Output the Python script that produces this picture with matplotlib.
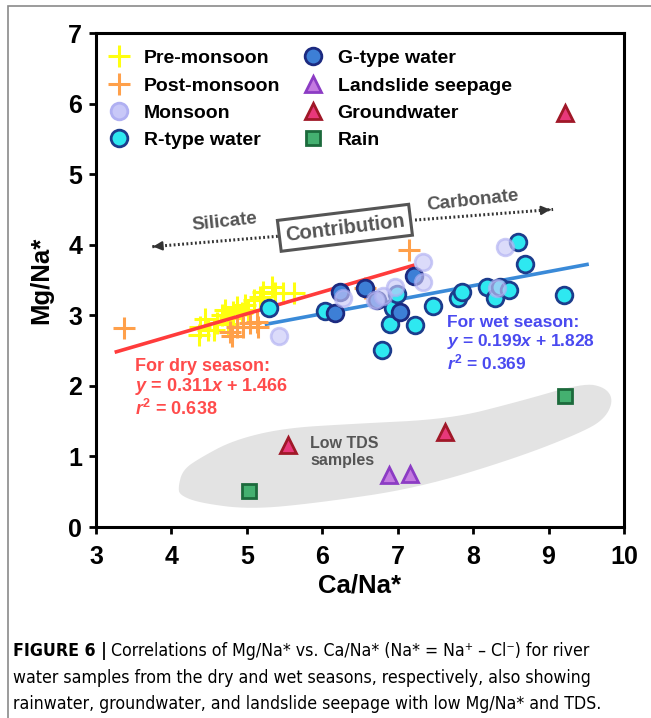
import numpy as np
import matplotlib
matplotlib.use('Agg')
import matplotlib.pyplot as plt
from matplotlib.lines import Line2D
from matplotlib.patches import Polygon, Rectangle

plt.rcParams['font.family'] = ['Liberation Sans', 'DejaVu Sans']
plt.rcParams['mathtext.fontset'] = 'custom'
plt.rcParams['mathtext.rm'] = 'Liberation Sans:bold'
plt.rcParams['mathtext.it'] = 'Liberation Sans:italic:bold'
plt.rcParams['mathtext.bf'] = 'Liberation Sans:bold'

# Amostras de rio - estação seca
pre_x = [4.36, 4.38, 4.45, 4.49, 4.56, 4.60, 4.67, 4.71, 4.75, 4.78, 4.82, 4.87,
         4.93, 4.98, 5.02, 5.09, 5.18, 5.22, 5.33, 5.37, 5.48, 5.62]
pre_y = [2.72, 2.84, 2.95, 2.79, 2.79, 2.89, 3.00, 3.07, 2.88, 2.96, 3.05, 3.12,
         3.03, 3.14, 3.07, 3.22, 3.26, 3.33, 3.40, 3.31, 3.31, 3.31]
post_x = [3.37, 4.78, 4.80, 4.87, 4.95, 5.04, 5.13, 5.15, 6.57, 7.15]
post_y = [2.82, 2.77, 2.70, 2.84, 2.84, 2.89, 2.91, 2.84, 3.38, 3.92]

# Amostras de rio - estação chuvosa
monsoon_x = [5.42, 6.27, 6.70, 6.80, 6.97, 7.34, 7.34, 8.31, 8.42]
monsoon_y = [2.70, 3.24, 3.22, 3.27, 3.40, 3.76, 3.47, 3.38, 3.97]
rtype_x = [5.29, 6.04, 6.79, 6.90, 6.94, 6.99, 7.23, 7.47, 7.80, 7.85, 8.18,
           8.29, 8.36, 8.47, 8.60, 8.69, 9.20]
rtype_y = [3.10, 3.06, 2.51, 2.88, 3.10, 3.30, 2.86, 3.13, 3.24, 3.33, 3.40,
           3.24, 3.40, 3.36, 4.04, 3.73, 3.29]
gtype_x = [6.17, 6.24, 6.57, 6.72, 7.03, 7.21]
gtype_y = [3.03, 3.33, 3.38, 3.22, 3.05, 3.55]

# Outras águas
seep_x = [6.89, 7.16]
seep_y = [0.74, 0.75]
ground_x = [5.55, 7.63, 9.22]
ground_y = [1.16, 1.35, 5.86]
rain_x = [5.03, 9.22]
rain_y = [0.51, 1.85]

# Regressões
dry_fit = (0.311, 1.466, 0.638)
wet_fit = (0.199, 1.828, 0.369)
dry_range = [3.27, 7.20]
wet_range = [5.26, 9.51]

# Contorno da região de baixo TDS
low_tds = [(4.09, 0.57), (4.15, 0.81), (4.38, 0.98), (4.82, 1.23), (5.48, 1.40),
           (6.37, 1.46), (7.69, 1.53), (8.58, 1.77), (9.46, 2.04), (9.75, 1.98),
           (9.86, 1.80), (9.75, 1.54), (9.46, 1.35), (8.58, 0.98), (7.26, 0.55),
           (5.93, 0.34), (5.04, 0.25), (4.38, 0.34), (4.11, 0.45)]


def suaviza(pts, n=3):
    # Chaikin para arredondar o contorno
    p = np.array(pts)
    for _ in range(n):
        q = np.roll(p, -1, axis=0)
        p = np.vstack([0.75 * p + 0.25 * q, 0.25 * p + 0.75 * q])
        p = p.reshape(2, -1, 2).transpose(1, 0, 2).reshape(-1, 2)
    return p


fig = plt.figure(figsize=(6.51, 7.18), dpi=100)
ax = fig.add_axes([0.1475, 0.266, 0.811, 0.688])

ax.add_patch(Polygon(suaviza(low_tds), closed=True, fc='#e3e3e3', ec='none', zorder=0))
ax.text(5.84, 1.06, 'Low TDS\nsamples', color='#555555', fontsize=11.5, fontweight='bold',
        ha='left', va='center', linespacing=1.2)

# Retas de regressão
xs = np.array(dry_range)
ax.plot(xs, dry_fit[0] * xs + dry_fit[1], color='#ff3b3b', lw=2.6, zorder=3)
xs = np.array(wet_range)
ax.plot(xs, wet_fit[0] * xs + wet_fit[1], color='#3a8ad8', lw=2.6, zorder=1)

# Pontos
ms = 12
ax.plot(pre_x, pre_y, '+', ms=16, mew=2.2, color='#ffff10', ls='none', zorder=2)
ax.plot(post_x, post_y, '+', ms=16, mew=2.2, color='#ffa04a', ls='none', zorder=2)
ax.plot(rtype_x, rtype_y, 'o', ms=ms, mfc='#2ee8f0', mec='#1c3c8c', mew=2, ls='none', zorder=4)
ax.plot(gtype_x, gtype_y, 'o', ms=ms, mfc='#3d7fd6', mec='#1c2a80', mew=2, ls='none', zorder=4)
ax.plot(monsoon_x, monsoon_y, 'o', ms=ms, mfc='#c8c8f8', mec='#b0b0f2', mew=2, ls='none',
        alpha=0.65, zorder=5)
ax.plot(seep_x, seep_y, '^', ms=12, mfc='#c47ae0', mec='#8c3cc4', mew=2, ls='none', zorder=4)
ax.plot(ground_x, ground_y, '^', ms=12, mfc='#e8387a', mec='#a01828', mew=2, ls='none', zorder=4)
ax.plot(rain_x, rain_y, 's', ms=10, mfc='#44b070', mec='#1c6a3c', mew=2, ls='none', zorder=4)

# Equações
ax.text(3.52, 2.40, 'For dry season:\n$y$ = %.3f$x$ + %.3f\n$r^2$ = %.3f' % dry_fit,
        color='#ff4b4b', fontsize=13, fontweight='bold', va='top', ha='left', linespacing=1.1)
ax.text(7.66, 3.00, 'For wet season:\n$y$ = %.3f$x$ + %.3f\n$r^2$ = %.3f' % wet_fit,
        color='#4a4af0', fontsize=12.5, fontweight='bold', va='top', ha='left', linespacing=1.1)

# Setas silicato / carbonato
cinza = '#555555'
for (x0, y0), (x1, y1) in [((5.41, 4.12), (3.72, 3.97)), ((7.23, 4.35), (9.06, 4.50))]:
    ax.plot([x0, x1], [y0, y1], color='#333333', lw=2.2, ls=(0, (0.6, 0.8)), zorder=3)
    ax.annotate('', xy=(x1, y1), xytext=(x1 - 0.08 * np.sign(x1 - x0), y1 - 0.08 * (y1 - y0) / abs(x1 - x0)),
                arrowprops=dict(arrowstyle='-|>', color='#333333', lw=1.5, mutation_scale=13))
ax.text(4.71, 4.32, 'Silicate', color=cinza, fontsize=13.5, fontweight='bold',
        rotation=6, ha='center', va='center')
ax.text(8.0, 4.63, 'Carbonate', color=cinza, fontsize=13.5, fontweight='bold',
        rotation=6, ha='center', va='center')
ax.text(6.30, 4.24, 'Contribution', color=cinza, fontsize=14.5, fontweight='bold',
        rotation=7, ha='center', va='center', zorder=6,
        bbox=dict(boxstyle='square,pad=0.3', fc='white', ec=cinza, lw=2.2))

# Legenda
leg_handles = [
    Line2D([], [], marker='+', ms=16, mew=2.2, color='#ffff10', ls='none'),
    Line2D([], [], marker='+', ms=16, mew=2.2, color='#ffa04a', ls='none'),
    Line2D([], [], marker='o', ms=ms, mfc='#c8c8f8', mec='#b0b0f2', mew=2, ls='none'),
    Line2D([], [], marker='o', ms=ms, mfc='#2ee8f0', mec='#1c3c8c', mew=2, ls='none'),
    Line2D([], [], marker='o', ms=ms, mfc='#3d7fd6', mec='#1c2a80', mew=2, ls='none'),
    Line2D([], [], marker='^', ms=12, mfc='#c47ae0', mec='#8c3cc4', mew=2, ls='none'),
    Line2D([], [], marker='^', ms=12, mfc='#e8387a', mec='#a01828', mew=2, ls='none'),
    Line2D([], [], marker='s', ms=10, mfc='#44b070', mec='#1c6a3c', mew=2, ls='none'),
]
leg_labels = ['Pre-monsoon', 'Post-monsoon', 'Monsoon', 'R-type water',
              'G-type water', 'Landslide seepage', 'Groundwater', 'Rain']
ax.legend(leg_handles, leg_labels, ncol=2, loc='upper left', frameon=False,
          prop=dict(weight='bold', size=14), handletextpad=0.65, columnspacing=1.1,
          labelspacing=0.5, borderaxespad=0.2, handlelength=1.2, bbox_to_anchor=(0.0, 0.99))

# Eixos
ax.set_xlim(3, 10)
ax.set_ylim(0, 7)
ax.set_xticks(range(3, 11))
ax.set_yticks(range(0, 8))
ax.tick_params(direction='out', length=5, width=2, labelsize=18, pad=5)
ax.tick_params(axis='x', pad=8)
for lab in ax.get_xticklabels() + ax.get_yticklabels():
    lab.set_fontweight('bold')
for s in ax.spines.values():
    s.set_linewidth(2.2)
ax.set_xlabel('Ca/Na*', fontsize=18.5, fontweight='bold', labelpad=3)
ax.set_ylabel('Mg/Na*', fontsize=18.5, fontweight='bold', labelpad=11)

# Moldura e legenda da figura
fig.add_artist(Rectangle((8 / 651, -0.1), 1.2, 1 - 6 / 718 + 0.1, transform=fig.transFigure,
                         fill=False, ec='#8a8a8a', lw=1.2))
cap = dict(family=['DejaVu Sans'], fontstretch='condensed', fontsize=12.7, va='center', ha='left')
t0 = fig.text(13 / 651, 1 - 651 / 718, 'FIGURE 6 |', fontweight='bold', **cap)
ax.annotate('Correlations of Mg/Na* vs. Ca/Na* (Na* = Na\u207a \u2013 Cl\u207b) for river',
            xy=(1, 0.5), xycoords=t0, xytext=(3, 0), textcoords='offset points',
            annotation_clip=False, **cap)
fig.text(13 / 651, 1 - 678 / 718, 'water samples from the dry and wet seasons, respectively, also showing',
         **cap)
fig.text(13 / 651, 1 - 704 / 718, 'rainwater, groundwater, and landslide seepage with low Mg/Na* and TDS.',
         **cap)

fig.savefig('out.png', dpi=100)
